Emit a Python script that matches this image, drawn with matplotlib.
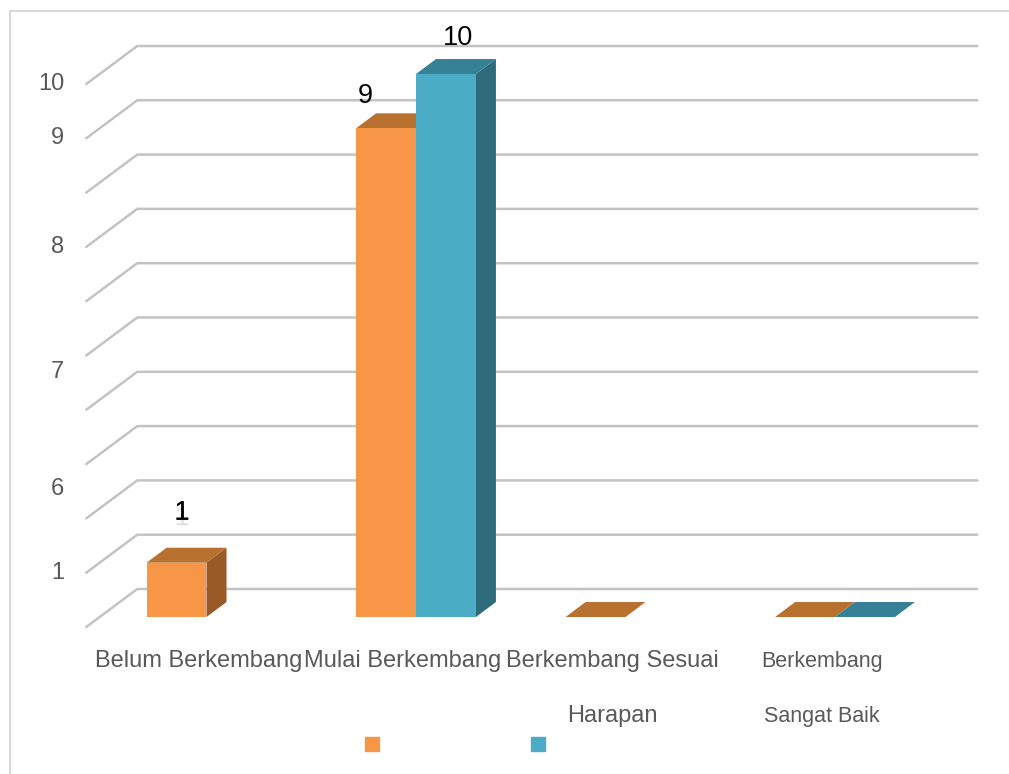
import numpy as np
import matplotlib
matplotlib.use('Agg')
import matplotlib.pyplot as plt
from matplotlib.patches import Polygon
from matplotlib.lines import Line2D
import matplotlib.patheffects as pe

plt.rcParams['font.family'] = ['Liberation Sans', 'DejaVu Sans']

# data
kategori = ['Belum Berkembang', 'Mulai Berkembang', 'Berkembang Sesuai\nHarapan', 'Berkembang\nSangat Baik']
seri_1 = [1, 9, 0, 0]
seri_2 = [np.nan, 10, np.nan, 0]
label_seri = ['', '']
ytick_pos = [10, 9, 7, 4.7, 2.55, 1]
ytick_label = ['10', '9', '8', '7', '6', '1']

# warna: depan, atas, samping
warna_1 = ('#F79646', '#B9712F', '#9A5A28')
warna_2 = ('#4BACC6', '#378197', '#2E6B7B')
abu = '#C3C3C3'
teks = '#595959'

# ukuran kedalaman 3D (unit kategori / unit nilai)
W = 0.286                 # lebar satu batang
DX, DY = 0.0955, 0.276    # kedalaman batang
FX, FY = -0.064, -0.184   # tepi depan lantai
BX, BY = 0.1795, 0.516    # dinding belakang
KIRI, KANAN = -0.51, 3.5

fig = plt.figure(figsize=(10.09, 7.74), dpi=100)
ax = fig.add_axes([0, 0, 1, 1])
ax.set_xlim(-0.98568, 3.83055)
ax.set_ylim(-2.891, 11.363)
ax.axis('off')

# garis grid: dinding samping (diagonal) + dinding belakang
for v in range(0, 11):
    ax.plot([KIRI + FX, KIRI + BX, KANAN + BX], [v + FY, v + BY, v + BY],
            color=abu, lw=1.8, solid_capstyle='round', zorder=1)


def batang(x, h, warna):
    if np.isnan(h):
        return
    depan, atas, samping = warna
    ax.add_patch(Polygon([(x, h), (x + W, h), (x + W + DX, h + DY), (x + DX, h + DY)],
                         closed=True, fc=atas, ec='none', zorder=3))
    if h > 0:
        ax.add_patch(Polygon([(x + W, 0), (x + W + DX, DY), (x + W + DX, h + DY), (x + W, h)],
                             closed=True, fc=samping, ec='none', zorder=3))
        ax.add_patch(Polygon([(x, 0), (x + W, 0), (x + W, h), (x, h)],
                             closed=True, fc=depan, ec='none', zorder=4))


for i in range(len(kategori)):
    batang(i - W, seri_1[i], warna_1)
    batang(i, seri_2[i], warna_2)

# label nilai
label_offset = {(0, 0): (4, 36), (1, 0): (-15, 23), (1, 1): (9, 26)}
for (i, s), (ox, oy) in label_offset.items():
    val = [seri_1, seri_2][s][i]
    x0 = i - W if s == 0 else i
    t = ax.annotate(str(int(val)), xy=(x0 + W / 2, val), xytext=(ox, oy),
                    textcoords='offset points', ha='center', va='center',
                    fontsize=19.5, color='black', zorder=5)
    if val == 1:
        t.set_path_effects([pe.withSimplePatchShadow(offset=(0, -4), shadow_rgbFace='#999999', alpha=0.3),
                            pe.Normal()])

# label sumbu y
for v, lab in zip(ytick_pos, ytick_label):
    ax.annotate(lab, xy=(KIRI + FX, v + FY), xytext=(-16, 0), textcoords='offset points',
                ha='right', va='center', fontsize=17, color=teks)

# label kategori
ukuran_kat = [17, 17, 17, 15.5]
geser_kat = [4, 0, 0, 0]
for i, lab in enumerate(kategori):
    for j, baris in enumerate(lab.split('\n')):
        ax.annotate(baris, xy=(i + FX, FY), xytext=(geser_kat[i], -29 - 39.6 * j),
                    textcoords='offset points', ha='center', va='baseline',
                    fontsize=ukuran_kat[i], color=teks)

# legenda
h = [Line2D([], [], marker='s', ls='none', color=warna_1[0], markersize=10),
     Line2D([], [], marker='s', ls='none', color=warna_2[0], markersize=10)]
fig.legend(h, label_seri, ncol=2, loc='center', bbox_to_anchor=(0.4545, 0.0375),
           frameon=False, handlelength=1, handletextpad=0.5, columnspacing=10.5, fontsize=10)

# bingkai
fig.add_artist(Line2D([10 / 1009, 10 / 1009], [0, 1 - 11 / 774], color='#D9D9D9', lw=1.5))
fig.add_artist(Line2D([10 / 1009, 1], [1 - 11 / 774, 1 - 11 / 774], color='#D9D9D9', lw=1.5))

fig.savefig('out.png', dpi=100)
